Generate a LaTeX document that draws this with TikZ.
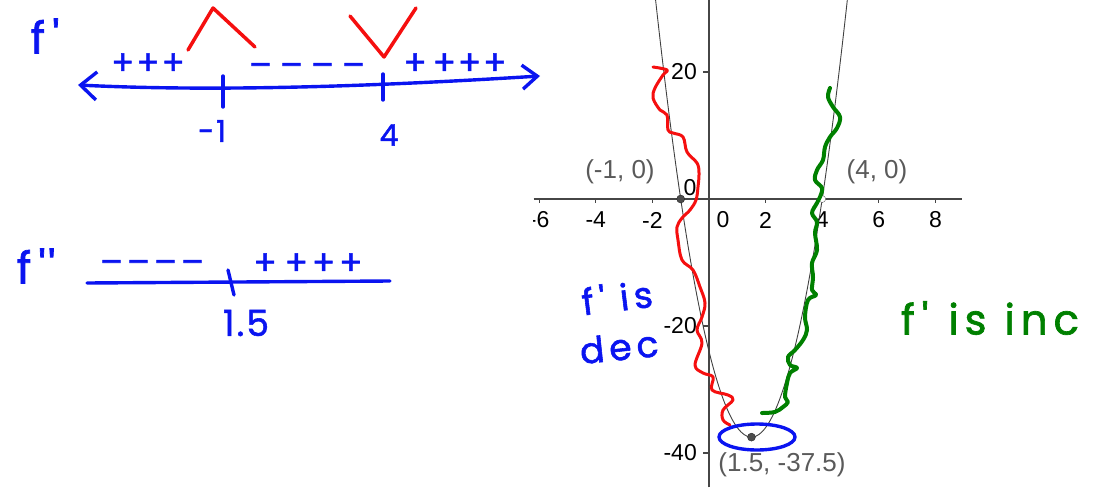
\documentclass[tikz,border=0pt]{standalone}
\usepackage{fontspec}
\usepackage{tikz}
\usetikzlibrary{arrows.meta, positioning}
\newfontfamily\ggbfont{Liberation Sans}
\newfontfamily\handfont[LetterSpace=6, FakeBold=1.6]{Poppins}
\newfontfamily\handwide[LetterSpace=14, FakeBold=1.6]{Poppins}
\definecolor{penblue}{RGB}{10,20,240}
\definecolor{penred}{RGB}{245,15,15}
\definecolor{pengreen}{RGB}{0,128,0}
\definecolor{ggbgray}{RGB}{90,90,90}
\definecolor{ggbaxis}{RGB}{70,70,70}
\tikzstyle{pen} = [draw=penblue, line width=3.4pt, line cap=round, line join=round]
\tikzstyle{redpen} = [draw=penred, line width=3pt, line cap=round, line join=round]
\tikzstyle{greenpen} = [draw=pengreen, line width=4pt, line cap=round, line join=round]
\tikzstyle{numline} = [pen, {Straight Barb[length=16pt, width=28pt]}-{Straight Barb[length=15pt, width=24pt]}]
\tikzstyle{hand} = [inner sep=0pt, text=penblue, font=\handfont\fontsize{34}{34}\selectfont]
\tikzstyle{axisline} = [draw=ggbaxis, line width=1.1pt]
\tikzstyle{curve} = [draw=black!75, line width=0.9pt]
\tikzstyle{ticklbl} = [inner sep=0pt, font=\ggbfont\fontsize{23}{23}\selectfont]
\tikzstyle{ptlbl} = [inner sep=0pt, text=ggbgray, font=\ggbfont\fontsize{26}{26}\selectfont]
\tikzstyle{dot} = [circle, inner sep=0pt, minimum size=8pt, fill=black!70, draw=black!85]
\tikzstyle{ring} = [circle, inner sep=0pt, minimum size=7pt, draw=black!60, fill=white]

\begin{document}
\begin{tikzpicture}[x=1pt, y=-1pt]
  \useasboundingbox (0,0) rectangle (1094,487);

  % graph of f'
  \begin{scope}[shift={(709,199)}, x=28.3pt, y=6.35pt]
    \clip (-6.2,-45.4) rectangle (8.95,31.4);
    \draw[axisline] (-6.2,0) -- (8.95,0);
    \draw[axisline] (0,-45.4) -- (0,31.4);
    \foreach \t in {-6,-4,-2,2,4,6,8}
      \draw[axisline] (\t,0) -- ++(0pt,-4pt);
    \foreach \t in {-40,-20,20}
      \draw[axisline] (0,\t) -- ++(-6pt,0pt);
    \foreach \t in {-6,-4,-2,2,4,6,8}
      \node[ticklbl] at ([yshift=-21pt]\t,0) {\t};
    \node[ticklbl] (xzero) at ([xshift=14pt, yshift=-21pt]0,0) {0};
    \node[ticklbl] (yzero) at ([xshift=-19pt, yshift=11pt]0,0) {0};
    \foreach \t in {-40,-20,20}
      \node[ticklbl, anchor=east] at ([xshift=-12pt]0,\t) {\t};
    \draw[curve] plot[domain=-2.1:5.1, samples=70, smooth] (\x, {6*(\x+1)*(\x-4)});
    \node[dot] (rootA) at (-1,0) {};
    \node[ring] (rootB) at (4,0) {};
    \node[dot] (vertex) at (1.5,-37.5) {};
  \end{scope}

  \node[ptlbl] (rootAlbl) at (620,172) {(-1, 0)};
  \node[ptlbl] (rootBlbl) at (877,172) {(4, 0)};
  \node[ptlbl] (vertexlbl) at (782,465) {(1.5, -37.5)};

  % pen marks on the graph
  \draw[redpen] plot[smooth, tension=0.6] coordinates {(653,67) (667,70) (663,75) (655,88) (653,98) (660,110) (667,115) (668,130) (673,133) (683,137) (687,152) (697,163) (699,173) (698,187) (696,200) (690,210) (682,218) (677,227) (678,240) (682,260) (693,270) (700,287) (705,303) (702,317) (697,330) (702,343) (695,365) (703,373) (713,377) (712,390) (728,395) (733,400) (723,410) (723,420) (730,425)};
  \draw[greenpen] plot[smooth, tension=0.6] coordinates {(830,88) (828,97) (833,107) (840,117) (837,128) (830,137) (825,147) (823,160) (817,170) (815,180) (822,188) (820,197) (817,203) (812,213) (817,222) (815,233) (817,250) (812,263) (813,277) (812,290) (816,295) (808,300) (805,317) (807,330) (803,340) (795,350) (788,357) (790,365) (797,368) (790,373) (787,383) (785,397) (788,402) (783,407) (775,412) (762,413)};
  \draw[pen] (757,437) ellipse [x radius=38, y radius=13];

  \node (decA) [hand, rotate=7, font=\handwide\fontsize{36}{36}\selectfont] at (617,297) {f\,' is};
  \node (decB) [hand, rotate=6, font=\handwide\fontsize{36}{36}\selectfont] at (619,347) {dec};
  \node (incA) [hand, text=pengreen, font=\handwide\fontsize{42}{42}\selectfont] at (990,318) {f\,'\hspace{20pt}is\hspace{18pt}inc};

  % sign chart of f'
  \node (fone) [hand, font=\handfont\fontsize{44}{44}\selectfont] at (45,36) {f\,'};
  \coordinate (lineL) at (78,85);
  \coordinate (lineR) at (540,76);
  \draw[numline] (lineL) .. controls (220,92) and (380,86) .. (lineR);
  \draw[pen] (223,76) -- (223,107);
  \draw[pen] (383,74) -- (383,100);
  \node (plusA) [hand] at (148,64) {+++};
  \node (minusA) [hand] at (307,70) {–\hspace{8pt}–\hspace{8pt}–\hspace{8pt}–};
  \node (plusB) [hand] at (455,64) {+\hspace{6pt}+++};
  \node (labA) [hand, font=\handfont\fontsize{30}{30}\selectfont] at (212,131) {-1};
  \node (labB) [hand, font=\handfont\fontsize{30}{30}\selectfont] at (389,135) {4};
  \draw[redpen, line width=3.5pt] (188,50) -- (213,8) -- (255,47);
  \draw[redpen, line width=3.5pt] (350,16) -- (384,57) -- (416,8);

  % sign chart of f''
  \node (ftwo) [hand, font=\handfont\fontsize{44}{44}\selectfont] at (36,266) {f\,''};
  \coordinate (barL) at (87,283);
  \coordinate (barR) at (390,281);
  \draw[pen] (barL) -- (barR);
  \draw[pen] (228,270) -- (234,295);
  \node (minusB) [hand] at (152,267) {–\hspace{4pt}–\hspace{4pt}–\hspace{4pt}–};
  \node (plusC) [hand] at (308,264) {+\hspace{8pt}+\hspace{4pt}+\hspace{4pt}+};
  \node (labC) [hand, font=\handfont\fontsize{36}{36}\selectfont] at (246,323) {1.5};
\end{tikzpicture}
\end{document}
